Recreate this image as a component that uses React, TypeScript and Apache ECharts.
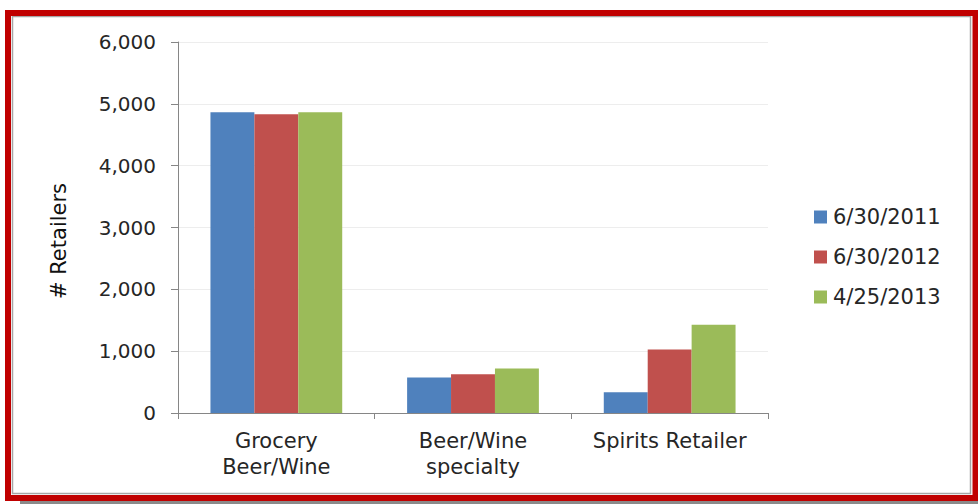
import React, { useEffect, useRef } from "react";
import * as echarts from "echarts";

const categories = ["Grocery\nBeer/Wine", "Beer/Wine\nspecialty", "Spirits Retailer"];
const seriesNames = ["6/30/2011", "6/30/2012", "4/25/2013"];
const values2011 = [4862, 573, 335];
const values2012 = [4830, 627, 1027];
const values2013 = [4862, 719, 1427];
const seriesColors = ["#4F81BD", "#C0504D", "#9BBB59"];
const yTicks = { min: 0, max: 6000, interval: 1000 };

export default function App() {
  const ref = useRef<HTMLDivElement>(null);
  useEffect(() => {
    if (!ref.current) return;
    const chart = echarts.init(ref.current, null, { renderer: "svg" });
    const font = "DejaVu Sans";
    const data = [values2011, values2012, values2013];
    chart.setOption({
      animation: false,
      backgroundColor: "#ffffff",
      textStyle: { fontFamily: font },
      grid: { left: 178, right: 210, top: 42, bottom: 91, containLabel: false },
      legend: {
        orient: "vertical",
        left: 809,
        top: 201,
        itemWidth: 13,
        itemHeight: 13,
        itemGap: 18,
        icon: "rect",
        textStyle: { fontFamily: font, fontSize: 21, color: "#262626", lineHeight: 22, padding: [0, 0, 0, 1] },
        data: seriesNames,
      },
      xAxis: {
        type: "category",
        data: categories,
        axisLine: { lineStyle: { color: "#868686", width: 1 } },
        axisTick: { show: true, length: 6, lineStyle: { color: "#868686" }, alignWithLabel: false },
        axisLabel: { fontFamily: font, fontSize: 21, color: "#262626", lineHeight: 26, margin: 15, interval: 0 },
        splitLine: { show: false },
      },
      yAxis: {
        type: "value",
        min: yTicks.min,
        max: yTicks.max,
        interval: yTicks.interval,
        axisLine: { show: true, lineStyle: { color: "#868686", width: 1 } },
        axisTick: { show: true, length: 7, lineStyle: { color: "#868686" } },
        axisLabel: {
          fontFamily: font,
          fontSize: 20,
          color: "#262626",
          margin: 22,
          formatter: (v: number) => v.toLocaleString("en-US"),
        },
        splitLine: { show: true, lineStyle: { color: "#EDEDED", width: 1 } },
      },
      graphic: [
        {
          type: "text",
          x: 59,
          y: 241,
          rotation: Math.PI / 2,
          style: {
            text: "# Retailers",
            fontFamily: font,
            fontSize: 21,
            fill: "#111111",
            align: "center",
            verticalAlign: "middle",
          },
        },
        {
          type: "rect",
          shape: { x: 20, y: 501, width: 958, height: 3 },
          style: { fill: "#8a8a8a" },
          silent: true,
        },
        {
          type: "rect",
          shape: { x: 12.5, y: 16.5, width: 958, height: 477 },
          style: { fill: "none", stroke: "#a6a6a6", lineWidth: 1.5 },
          silent: true,
        },
        {
          type: "rect",
          shape: { x: 8, y: 13, width: 967.5, height: 485 },
          style: { fill: "none", stroke: "#C00000", lineWidth: 6 },
          silent: true,
        },
      ],
      series: seriesNames.map((name, i) => ({
        name,
        type: "bar",
        data: data[i],
        barGap: "0%",
        barCategoryGap: "33%",
        itemStyle: { color: seriesColors[i] },
      })),
    });
    return () => chart.dispose();
  }, []);
  return (
    <div
      ref={ref}
      style={{ position: "fixed", left: 0, top: 0, width: 978, height: 504 }}
    />
  );
}
